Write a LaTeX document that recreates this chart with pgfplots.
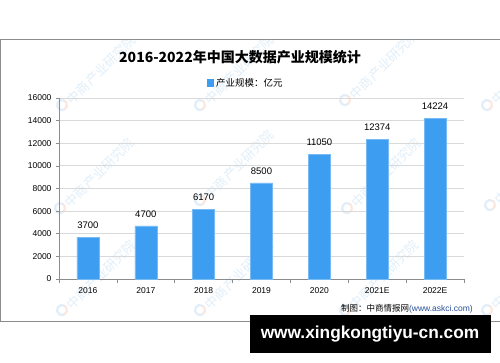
\documentclass[border=0pt]{standalone}
\usepackage{pgfplots}
\pgfplotsset{compat=1.18}
\usepackage{fontspec}
\setmainfont{Liberation Sans}
\newfontfamily\cjk{Noto Sans CJK SC}
\definecolor{barblue}{RGB}{61,157,240}
\definecolor{gridgray}{RGB}{217,217,217}
\definecolor{axgray}{RGB}{140,140,140}
\definecolor{wmblue}{RGB}{120,180,230}
\definecolor{wmorange}{RGB}{240,150,110}
\definecolor{urlblue}{RGB}{40,80,150}
\begin{document}
\begin{tikzpicture}[x=1pt,y=1pt]
\useasboundingbox (0,0) rectangle (500,-362);
\fill[white] (0,0) rectangle (500,-362);
% frame
\draw[axgray, line width=1pt] (0.5,-39) -- (0.5,-321) -- (505,-321);
\draw[axgray, line width=1pt] (0.5,-39) -- (505,-39);
% watermarks
\begin{scope}
\clip (1,-39.5) rectangle (500,-320.5);
\foreach \px/\py in {62/105,200/105,345/100,487/105,60/208,200/200,347/208,490/205,62/310,200/310,345/310,487/310}{
  \draw[wmblue, opacity=0.22, line width=2.2pt] (\px,-\py) ++(60:5) arc (60:300:5);
  \draw[wmorange, opacity=0.22, line width=2.2pt] (\px,-\py) ++(-60:5) arc (-60:60:5);
  \node[rotate=45, anchor=west, text=wmblue, opacity=0.22, font=\cjk\fontsize{13}{13}\selectfont, inner sep=0pt] at (\px+7,-\py+3) {中商产业研究院};
}
\end{scope}
% title
\node[font=\cjk\bfseries\fontsize{14}{16}\selectfont] at (240,-57) {2016-2022年中国大数据产业规模统计};
% legend
\fill[barblue] (207,-79) rectangle (214,-87);
\node[anchor=west, font=\cjk\fontsize{9.5}{11}\selectfont, inner sep=0pt] at (216,-83) {产业规模：亿元};
\begin{axis}[
  at={(59pt,-279pt)}, anchor=south west,
  scale only axis, width=405pt, height=181pt,
  xmin=-0.5, xmax=6.5, ymin=0, ymax=16000,
  axis x line*=bottom, axis y line*=left,
  axis line style={axgray, line width=0.8pt},
  ytick={0,2000,...,16000},
  scaled y ticks=false,
  xtick={0,...,6},
  xticklabels={2016,2017,2018,2019,2020,2021E,2022E},
  major x tick style={draw=none},
  minor xtick={-0.5,0.5,...,6.5},
  minor x tick style={axgray, line width=0.6pt},
  minor tick length=4pt,
  tick align=outside,
  major tick length=3pt,
  major y tick style={axgray, line width=0.6pt},
  ymajorgrids, grid style={gridgray, line width=0.8pt},
  /pgf/number format/1000 sep={},
  /pgf/number format/assume math mode=true,
  tick label style={font=\fontsize{8.5}{10}\selectfont},
  yticklabel style={xshift=-1pt},
  xticklabel style={yshift=-2pt},
  ybar, bar width=22pt,
  nodes near coords,
  nodes near coords style={font=\fontsize{9.5}{11}\selectfont, yshift=5pt, /pgf/number format/1000 sep={}},
  clip=false,
]
\addplot[fill=barblue, draw=barblue!70!white] coordinates {(0,3700) (1,4700) (2,6170) (3,8500) (4,11050) (5,12374) (6,14224)};
\end{axis}
% source
\node[anchor=east, font=\fontsize{8.5}{10}\selectfont, inner sep=0pt] at (473,-309) {{\cjk 制图：中商情报网}\textcolor{urlblue}{(www.askci.com)}};
% banner
\fill[black] (250,-315) rectangle (491,-353);
\node[text=white, font=\bfseries\fontsize{17.3}{19}\selectfont] at (370,-334) {www.xingkongtiyu-cn.com};
\end{tikzpicture}
\end{document}
